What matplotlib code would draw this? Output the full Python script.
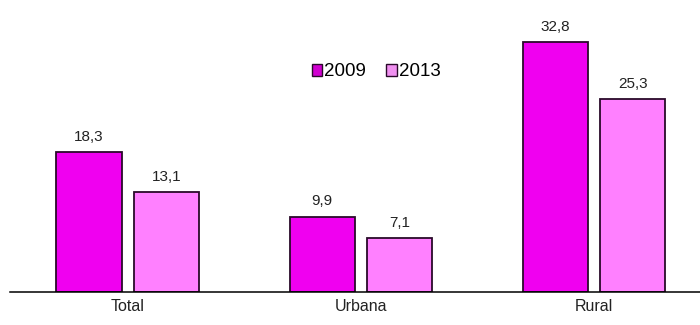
import numpy as np
import matplotlib.pyplot as plt
from matplotlib.patches import Patch

categories = ['Total', 'Urbana', 'Rural']
years = ['2009', '2013']
values_2009 = [18.3, 9.9, 32.8]
values_2013 = [13.1, 7.1, 25.3]

plt.rcParams['font.family'] = ['Liberation Sans', 'DejaVu Sans']

fig = plt.figure(figsize=(7, 3.25), dpi=100)
ax = fig.add_axes([10 / 700, 1 - 292 / 325, 690 / 700, 292 / 325])

x = np.arange(len(categories))
width = 0.279
offset = 0.167

bars1 = ax.bar(x - offset, values_2009, width, color='#f000f0',
               edgecolor='#2a0a2a', linewidth=1.3, label=years[0])
bars2 = ax.bar(x + offset, values_2013, width, color='#ff80ff',
               edgecolor='#2a0a2a', linewidth=1.3, label=years[1])

# value labels with decimal comma
for bars, vals in [(bars1, values_2009), (bars2, values_2013)]:
    for b, v in zip(bars, vals):
        ax.annotate(f'{v:.1f}'.replace('.', ','),
                    (b.get_x() + b.get_width() / 2, v),
                    xytext=(0, 6), textcoords='offset points',
                    ha='center', va='bottom', fontsize=11, color='#222222')

ax.set_xlim(-0.506, 2.455)
ax.set_ylim(0, 38.3)
ax.set_xticks(x)
ax.set_xticklabels(categories, fontsize=11.5, color='#222222')
ax.tick_params(axis='x', length=0, pad=5)
ax.set_yticks([])
for side in ['top', 'right', 'left']:
    ax.spines[side].set_visible(False)
ax.spines['bottom'].set_linewidth(1.1)

handles = [Patch(facecolor='#d000d0', edgecolor='#2a0a2a', linewidth=1),
           Patch(facecolor='#f090f0', edgecolor='#2a0a2a', linewidth=1)]
ax.legend(handles, years, loc='center', bbox_to_anchor=(366 / 690, 1 - 72 / 292),
          ncol=2, frameon=False, fontsize=13.5, handlelength=0.55, handleheight=0.55,
          handletextpad=0.1, columnspacing=1.1, borderpad=0)

fig.savefig('out.png', dpi=100)
